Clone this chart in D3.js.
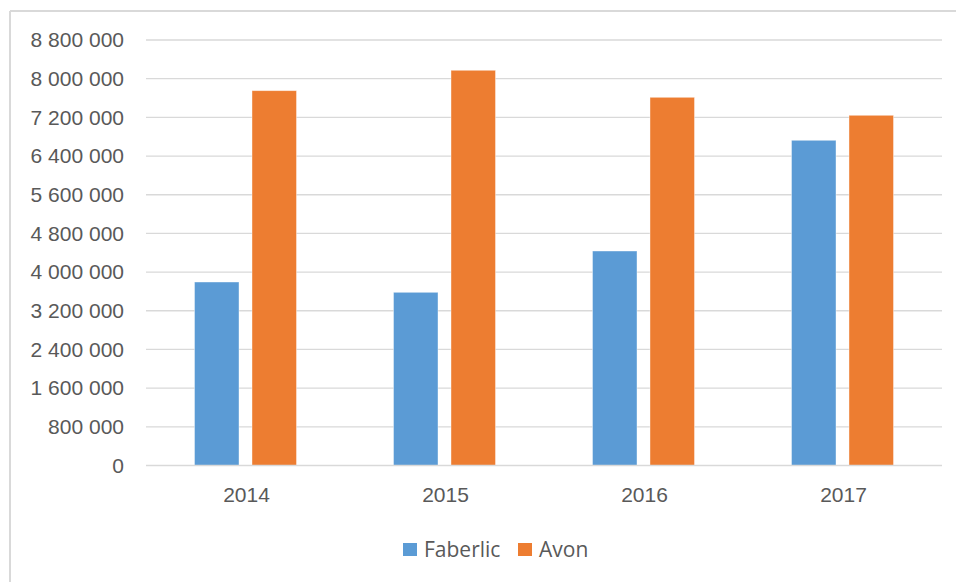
<!DOCTYPE html>
<html lang="en">
<head>
<meta charset="UTF-8"/>
<title>Faberlic vs Avon</title>
<script src="https://d3js.org/d3.v7.min.js"></script>
<style>
    html, body { margin: 0; padding: 0; background: #fff; }
    svg { display: block; font-family: "Open Sans", "Liberation Sans", sans-serif; }
</style>
</head>
<body>
<div id="chart"></div>
<script>
    var years = ["2014", "2015", "2016", "2017"];
    var seriesNames = ["Faberlic", "Avon"];
    var faberlic = [3795000, 3582000, 4436000, 6726000];
    var avon = [7752000, 8174000, 7615000, 7243000];
    var yTicks = [0, 800000, 1600000, 2400000, 3200000, 4000000, 4800000, 5600000, 6400000, 7200000, 8000000, 8800000];
    var colors = ["#5b9bd5", "#ed7d31"];

    var w = 956, h = 582;
    var plotLeft = 146, plotRight = 942, plotTop = 40, plotBottom = 465.5;

    var svg = d3.select("#chart").append("svg")
        .attr("width", w)
        .attr("height", h);

    // chart frame (only top and left edges are visible)
    svg.append("line").attr("x1", 10).attr("x2", w).attr("y1", 11).attr("y2", 11)
        .attr("stroke", "#d9d9d9").attr("stroke-width", 2);
    svg.append("line").attr("x1", 10).attr("x2", 10).attr("y1", 11).attr("y2", h)
        .attr("stroke", "#d9d9d9").attr("stroke-width", 2);

    var x0 = d3.scaleBand().domain(years).range([plotLeft, plotRight]);
    var x1 = d3.scaleBand().domain(seriesNames).range([0, 102]).paddingInner(0.226);
    var y = d3.scaleLinear().domain([0, 8800000]).range([plotBottom, plotTop]);

    // gridlines
    svg.append("g").selectAll("line")
        .data(yTicks.slice(1))
        .enter().append("line")
        .attr("x1", plotLeft).attr("x2", plotRight)
        .attr("y1", function(d) { return y(d); })
        .attr("y2", function(d) { return y(d); })
        .attr("stroke", "#d9d9d9").attr("stroke-width", 1.3);

    var fmt = function(d) { return d3.format(",")(d).replace(/,/g, " "); };

    var yAxis = d3.axisLeft(y).tickValues(yTicks).tickFormat(fmt).tickSize(0).tickPadding(0);
    var yg = svg.append("g").attr("transform", "translate(124,0)").call(yAxis);
    yg.select(".domain").remove();
    yg.selectAll("text").attr("fill", "#595959").attr("font-size", "21px");

    var data = [faberlic, avon];
    var groups = svg.append("g").selectAll("g")
        .data(years)
        .enter().append("g")
        .attr("transform", function(d) { return "translate(" + (x0(d) + x0.bandwidth() / 2 - 51) + ",0)"; });

    groups.selectAll("rect")
        .data(function(d, i) { return seriesNames.map(function(s, j) { return { s: s, v: data[j][i], c: colors[j] }; }); })
        .enter().append("rect")
        .attr("x", function(d) { return x1(d.s); })
        .attr("width", x1.bandwidth())
        .attr("y", function(d) { return y(d.v); })
        .attr("height", function(d) { return plotBottom - y(d.v); })
        .attr("fill", function(d) { return d.c; })
        .attr("stroke", "#ffffff").attr("stroke-opacity", 0.5).attr("stroke-width", 0.8);

    // baseline
    svg.append("line").attr("x1", plotLeft).attr("x2", plotRight).attr("y1", plotBottom).attr("y2", plotBottom)
        .attr("stroke", "#d9d9d9").attr("stroke-width", 1.5);

    var xAxis = d3.axisBottom(x0).tickSize(0).tickPadding(0);
    var xg = svg.append("g").attr("transform", "translate(1,487)").call(xAxis);
    xg.select(".domain").remove();
    xg.selectAll("text").attr("fill", "#595959").attr("font-size", "21px").attr("dy", "0.71em");

    // legend
    var legendX = [403, 518];
    var legend = svg.append("g").selectAll("g")
        .data(seriesNames)
        .enter().append("g")
        .attr("transform", function(d, i) { return "translate(" + legendX[i] + ",543)"; });
    legend.append("rect").attr("width", 14).attr("height", 13)
        .attr("fill", function(d, i) { return colors[i]; });
    legend.append("text").attr("x", 21).attr("y", 7).attr("dy", "0.35em")
        .attr("fill", "#595959").attr("font-size", "21px")
        .text(function(d) { return d; });
</script>
</body>
</html>
